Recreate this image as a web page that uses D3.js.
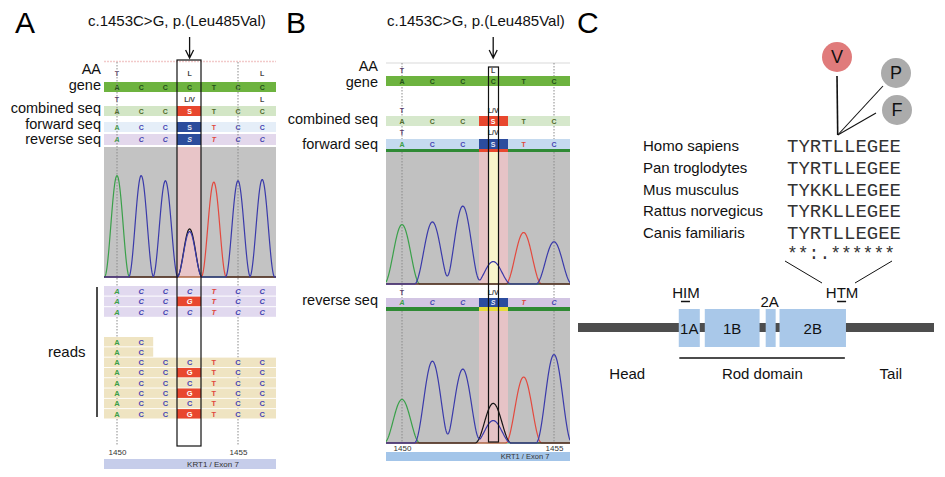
<!DOCTYPE html>
<html>
<head>
<meta charset="utf-8">
<script src="https://cdn.jsdelivr.net/npm/d3@7"></script>
<style>
  body { margin: 0; background: #fff; }
  text { font-family: 'Liberation Sans', Arial, sans-serif; }
</style>
</head>
<body>
<script>
// ---- data ----
const mutPos = 1453;
const positionsA = [1450, 1451, 1452, 1453, 1454, 1455, 1456];
const positionsB = [1450, 1451, 1452, 1453, 1454, 1455];
const tickPositions = [1450, 1455];
const geneBases = ["A", "C", "C", "C", "T", "C", "C"];
const calledBases = ["A", "C", "C", "S", "T", "C", "C"];
const aaGene = ["T", "", "", "L", "", "", "L"];
const aaCombined = ["T", "", "", "L/V", "", "", "L"];
const readsPurple = [
  ["A", "C", "C", "C", "T", "C", "C"],
  ["A", "C", "C", "G", "T", "C", "C"],
  ["A", "C", "C", "C", "T", "C", "C"]
];
const readsTan = [
  ["A", "C"],
  ["A", "C"],
  ["A", "C", "C", "C", "T", "C", "C"],
  ["A", "C", "C", "G", "T", "C", "C"],
  ["A", "C", "C", "C", "T", "C", "C"],
  ["A", "C", "C", "G", "T", "C", "C"],
  ["A", "C", "C", "C", "T", "C", "C"],
  ["A", "C", "C", "G", "T", "C", "C"]
];
// peak heights (0-100 of trace window) for the wild-type base, plus the G peak at 1453
const peaksA = [78, 78, 74, 35, 73, 74, 75];
const mutPeakA = 37;
const peaksFwdB = [45, 47, 59, 17, 39, 32];
const mutPeakFwdB = 0;
const peaksRevB = [33, 62, 56, 17, 50, 67];
const mutPeakRevB = 30;

const species = ["Homo sapiens", "Pan troglodytes", "Mus musculus", "Rattus norvegicus", "Canis familiaris"];
const sequences = ["TYRTLLEGEE", "TYRTLLEGEE", "TYKKLLEGEE", "TYRKLLEGEE", "TYRTLLEGEE"];
const conservation = "**:.******";
const variantResidue = 4; // index of L485 in the alignment window
const variants = ["V", "P", "F"];
const variantColors = ["#e07b7b", "#ababab", "#ababab"];
const domainNames = ["1A", "1B", "2A", "2B"];
const domainStart = [183, 230, 340, 365];
const domainEnd = [221, 329, 358, 485];
const proteinLength = 644;
const rodRange = [184, 483];
const motifs = [{ name: "HIM", at: 196 }, { name: "HTM", at: 478 }];
const regionLabels = [{ name: "Head", at: 90 }, { name: "Rod domain", at: 334 }, { name: "Tail", at: 566 }];

// ---- setup ----
const svg = d3.select("body").append("svg").attr("width", 945).attr("height", 477);

const letterColor = { A: "#3a9f45", C: "#4545b2", G: "#ffffff", T: "#e0473c", S: "#e6e8f4" };
const traceColor = { A: "#3aa04a", C: "#3a3aaa", G: "#151515", T: "#e3493e" };

function bar(g, x0, x1, y0, y1, fill) {
  g.append("rect").attr("x", x0).attr("y", y0)
    .attr("width", x1 - x0).attr("height", y1 - y0).attr("fill", fill);
}

function letters(g, x, pos, labels, y, opt = {}) {
  g.selectAll(null)
    .data(pos.map((p, i) => ({ p, t: labels[i] })).filter(d => d.t))
    .join("text")
    .attr("x", d => x(d.p)).attr("y", y)
    .attr("text-anchor", "middle").attr("dominant-baseline", "central")
    .style("font-size", (opt.size || 7) + "px")
    .style("font-weight", "bold")
    .style("font-style", opt.italic ? "italic" : "normal")
    .attr("fill", d => opt.color ? (typeof opt.color === "function" ? opt.color(d.t) : opt.color) : letterColor[d.t])
    .text(d => d.t);
}

function rowLabels(g, xRight, labels, baselines) {
  labels.forEach((t, i) => {
    g.append("text").attr("x", xRight).attr("y", baselines[i])
      .attr("text-anchor", "end").style("font-size", "14.5px").attr("fill", "#111").text(t);
  });
}

function arrow(g, x, y0, y1) {
  g.append("path")
    .attr("d", `M${x},${y0} V${y1} M${x - 4},${y1 - 8} L${x},${y1} L${x + 4},${y1 - 8}`)
    .attr("fill", "none").attr("stroke", "#111").attr("stroke-width", 1.3);
}

// raised-cosine peak shape of half-width w
function peakShape(d, w) {
  return Math.abs(d) < w ? Math.cos(Math.PI * d / (2 * w)) ** 2 : 0;
}

function traces(g, x, y, pos, heights, mutH, w, x0, x1, clipId) {
  ["A", "T", "G", "C"].forEach(ch => {
    const pk = [];
    pos.forEach((p, i) => { if (geneBases[i] === ch) pk.push({ c: x(p), h: heights[i] }); });
    if (ch === "G" && mutH) pk.push({ c: x(mutPos), h: mutH });
    const pts = d3.range(x0, x1 + 0.25, 0.5).map(v =>
      [v, d3.sum(pk, k => k.h * peakShape(v - k.c, w))]);
    g.append("path")
      .attr("clip-path", `url(#${clipId})`)
      .attr("d", d3.line().x(d => d[0]).y(d => y(d[1]))(pts))
      .attr("fill", "none").attr("stroke", traceColor[ch]).attr("stroke-width", 1.2);
  });
}

function dotted(g, x, xs, y0, y1) {
  xs.forEach(p => {
    g.append("line").attr("x1", x(p)).attr("x2", x(p)).attr("y1", y0).attr("y2", y1)
      .attr("stroke", "#8a8a8a").attr("stroke-width", 1).attr("stroke-dasharray", "1.5,1.5");
  });
}

function posAxis(g, x, y) {
  const ax = g.append("g").attr("transform", `translate(0,${y})`)
    .call(d3.axisBottom(x).tickValues(tickPositions).tickSize(0).tickPadding(0).tickFormat(d3.format("d")));
  ax.select(".domain").remove();
  ax.selectAll("text").style("font-size", "8px").attr("fill", "#333")
    .style("font-family", "'Liberation Sans', Arial, sans-serif");
}

const defs = svg.append("defs");

// ================= Panel A =================
const gA = svg.append("g");
const xA = d3.scaleLinear().domain([1450, 1455]).range([117, 238]);
const aL = 104, aR = 276, selA = [177, 201];

gA.append("text").attr("x", 15).attr("y", 33).style("font-size", "30px").text("A");
gA.append("text").attr("x", 88).attr("y", 26).style("font-size", "15px").attr("fill", "#111")
  .text("c.1453C>G, p.(Leu485Val)");
arrow(gA, xA(mutPos), 37, 58);
rowLabels(gA, 101, ["AA", "gene", "combined seq", "forward seq", "reverse seq"], [74, 90, 113, 129, 144]);

gA.append("line").attr("x1", aL).attr("x2", aR).attr("y1", 61.5).attr("y2", 61.5)
  .attr("stroke", "#f2caca").attr("stroke-width", 1.5).attr("stroke-dasharray", "2,1");

letters(gA, xA, positionsA, aaGene, 73, { color: t => t === "T" ? "#5a3a6a" : "#444" });
bar(gA, aL, aR, 82, 92, "#6db33f");
letters(gA, xA, positionsA, geneBases, 87, { color: "#24501a" });
letters(gA, xA, positionsA, aaCombined, 99, { color: t => t === "T" ? "#5a3a6a" : "#444" });
bar(gA, aL, aR, 106, 116, "#d3e6c6");
bar(gA, selA[0], selA[1], 106, 116, "#e8472e");
letters(gA, xA, positionsA, calledBases, 111, { color: t => t === "S" ? "#fff" : "#4f6a2a" });
bar(gA, aL, aR, 122, 132, "#e5eef8");
bar(gA, selA[0], selA[1], 122, 132, "#2c4d9c");
letters(gA, xA, positionsA, calledBases, 127);
bar(gA, aL, aR, 134, 145, "#e3d8ec");
bar(gA, selA[0], selA[1], 134, 145, "#2c4d9c");
letters(gA, xA, positionsA, calledBases, 139.5, { italic: true });

// chromatogram A
const yA = d3.scaleLinear().domain([0, 100]).range([277, 147]);
bar(gA, aL, aR, 147, 277, "#c3c3c3");
bar(gA, selA[0], selA[1], 147, 277, "#e8c5c8");
defs.append("clipPath").attr("id", "clipA").append("rect")
  .attr("x", aL).attr("y", 140).attr("width", aR - aL).attr("height", 138);
dotted(gA, xA, tickPositions, 62, 446);
traces(gA, xA, yA, positionsA, peaksA, mutPeakA, 12.5, aL, aR, "clipA");

// reads
readsPurple.forEach((r, i) => {
  const y0 = 286 + i * 10.6;
  bar(gA, aL, aR, y0, y0 + 9.6, "#e1d9ef");
  if (r[3] === "G") bar(gA, selA[0], selA[1], y0, y0 + 9.6, "#e8472e");
  letters(gA, xA, positionsA.slice(0, r.length), r, y0 + 5, { italic: true, size: 7.5 });
});
readsTan.forEach((r, i) => {
  const y0 = 337 + i * 10.3;
  const right = r.length < positionsA.length ? xA(positionsA[r.length - 1]) + 12 : aR;
  bar(gA, aL, right, y0, y0 + 9.4, "#efe4c2");
  if (r[3] === "G") bar(gA, selA[0], selA[1], y0, y0 + 9.4, "#e8472e");
  letters(gA, xA, positionsA.slice(0, r.length), r, y0 + 5, { size: 7.5 });
});
gA.append("line").attr("x1", 97).attr("x2", 97).attr("y1", 287).attr("y2", 417)
  .attr("stroke", "#111").attr("stroke-width", 1.5);
gA.append("text").attr("x", 48).attr("y", 357).style("font-size", "15px").attr("fill", "#111").text("reads");

gA.append("rect").attr("x", selA[0]).attr("y", 60).attr("width", selA[1] - selA[0]).attr("height", 386)
  .attr("fill", "none").attr("stroke", "#111").attr("stroke-width", 1.2);

posAxis(gA, xA, 449);
bar(gA, aL, aR, 459, 469, "#c6cdea");
gA.append("text").attr("x", 213).attr("y", 467).attr("text-anchor", "middle")
  .style("font-size", "8px").attr("fill", "#333").text("KRT1 / Exon 7");

// ================= Panel B =================
const gB = svg.append("g");
const xB = d3.scaleLinear().domain([1450, 1455]).range([402, 554]);
const bL = 386, bR = 570, cellB = [479, 508], selB = [488.5, 498.5];
const aaB = aaCombined.slice(0, positionsB.length);

gB.append("text").attr("x", 286).attr("y", 33).style("font-size", "30px").text("B");
gB.append("text").attr("x", 387).attr("y", 26).style("font-size", "15px").attr("fill", "#111")
  .text("c.1453C>G, p.(Leu485Val)");
arrow(gB, xB(mutPos), 37, 58);
rowLabels(gB, 378, ["AA", "gene", "combined seq", "forward seq", "reverse seq"], [71, 87, 124, 149, 305]);

gB.append("line").attr("x1", bL).attr("x2", bR).attr("y1", 63).attr("y2", 63)
  .attr("stroke", "#e6e6e6").attr("stroke-width", 1.5);
dotted(gB, xB, tickPositions, 63, 443);

letters(gB, xB, positionsB, aaGene, 70, { color: t => t === "T" ? "#5a3a6a" : "#444" });
bar(gB, bL, bR, 76, 86, "#6db33f");
letters(gB, xB, positionsB, geneBases, 81, { color: "#24501a" });
letters(gB, xB, positionsB, aaB, 110, { color: t => t === "T" ? "#5a3a6a" : "#444" });
bar(gB, bL, bR, 116, 126, "#d6e8cc");
bar(gB, cellB[0], cellB[1], 116, 126, "#e8472e");
letters(gB, xB, positionsB, calledBases, 121, { color: t => t === "S" ? "#fff" : "#4f6a2a" });
letters(gB, xB, positionsB, aaB, 132, { color: t => t === "T" ? "#5a3a6a" : "#444" });
bar(gB, bL, bR, 139, 149, "#c5daef");
bar(gB, cellB[0], cellB[1], 139, 149, "#2b4c9e");
letters(gB, xB, positionsB, calledBases, 144);
bar(gB, bL, bR, 149, 152, "#2f8a35");
bar(gB, cellB[0], cellB[1], 149, 152, "#e8472e");

// forward chromatogram B
const yBf = d3.scaleLinear().domain([0, 100]).range([284, 152]);
bar(gB, bL, bR, 152, 284, "#c1c1c1");
bar(gB, cellB[0], cellB[1], 152, 284, "#e6c3c6");
bar(gB, selB[0], selB[1], 152, 284, "#f8f5cc");
defs.append("clipPath").attr("id", "clipBf").append("rect")
  .attr("x", bL).attr("y", 150).attr("width", bR - bL).attr("height", 135);
dotted(gB, xB, tickPositions, 152, 284);
traces(gB, xB, yBf, positionsB, peaksFwdB, mutPeakFwdB, 18, bL, bR, "clipBf");

letters(gB, xB, positionsB, aaB, 292, { color: t => t === "T" ? "#5a3a6a" : "#444" });
bar(gB, bL, bR, 298, 307, "#d2c5e3");
bar(gB, cellB[0], cellB[1], 298, 307, "#2b4c9e");
letters(gB, xB, positionsB, calledBases, 302.5, { italic: true });
bar(gB, bL, bR, 307, 311, "#2f8a35");
bar(gB, cellB[0], cellB[1], 307, 311, "#e6dc3a");

// reverse chromatogram B
const yBr = d3.scaleLinear().domain([0, 100]).range([443, 311]);
bar(gB, bL, bR, 311, 443, "#c1c1c1");
bar(gB, cellB[0], cellB[1], 311, 443, "#e6c3c6");
defs.append("clipPath").attr("id", "clipBr").append("rect")
  .attr("x", bL).attr("y", 309).attr("width", bR - bL).attr("height", 135);
dotted(gB, xB, tickPositions, 311, 443);
traces(gB, xB, yBr, positionsB, peaksRevB, mutPeakRevB, 18, bL, bR, "clipBr");

gB.append("rect").attr("x", selB[0]).attr("y", 67).attr("width", selB[1] - selB[0]).attr("height", 375)
  .attr("fill", "none").attr("stroke", "#111").attr("stroke-width", 1.2);

posAxis(gB, xB, 445);
bar(gB, bL, bR, 452, 461, "#a3c5e9");
gB.append("text").attr("x", 525).attr("y", 459).attr("text-anchor", "middle")
  .style("font-size", "7.5px").attr("fill", "#333").text("KRT1 / Exon 7");

// ================= Panel C =================
const gC = svg.append("g");
gC.append("text").attr("x", 577).attr("y", 33).style("font-size", "30px").text("C");

const charW = 11.4, seqX = 787;
const mono = "'Liberation Mono', 'Courier New', monospace";
const yRow = d3.scalePoint().domain(species).range([151, 238]);
gC.selectAll(".sp").data(species).join("text").attr("class", "sp")
  .attr("x", 643).attr("y", d => yRow(d)).style("font-size", "15px").attr("fill", "#111").text(d => d);
gC.selectAll(".seq").data(sequences).join("text").attr("class", "seq")
  .attr("x", seqX).attr("y", (d, i) => yRow(species[i]) + 1)
  .style("font-family", mono).style("font-size", "19px")
  .attr("fill", "#333").text(d => d);
gC.append("text").attr("x", seqX).attr("y", 259)
  .style("font-family", mono).style("font-size", "18px")
  .attr("fill", "#333").attr("xml:space", "preserve").text(conservation);

// variant bubbles
const hub = [seqX + (variantResidue + 0.45) * charW, 135];
const bubbles = [[837, 57], [896, 73], [897, 110]];
const stemFrom = [[837, 76], [883, 86], [876, 113]];
variants.forEach((v, i) => {
  gC.append("line").attr("x1", stemFrom[i][0]).attr("y1", stemFrom[i][1]).attr("x2", hub[0]).attr("y2", hub[1])
    .attr("stroke", "#111").attr("stroke-width", i === 0 ? 1.6 : 1.1);
});
variants.forEach((v, i) => {
  gC.append("circle").attr("cx", bubbles[i][0]).attr("cy", bubbles[i][1]).attr("r", 15).attr("fill", variantColors[i]);
  gC.append("text").attr("x", bubbles[i][0]).attr("y", bubbles[i][1] + 6).attr("text-anchor", "middle")
    .style("font-size", "18px").attr("fill", "#111").text(v);
});

// protein schematic
const xP = d3.scaleLinear().domain([1, proteinLength]).range([578, 934]);
const backY = 327.5;
gC.append("line").attr("x1", xP(1)).attr("x2", xP(proteinLength)).attr("y1", backY).attr("y2", backY)
  .attr("stroke", "#4d4d4d").attr("stroke-width", 9);
domainNames.forEach((d, i) => {
  bar(gC, xP(domainStart[i]), xP(domainEnd[i]), 309, 347, "#a9c8e9");
  const cx = (xP(domainStart[i]) + xP(domainEnd[i])) / 2;
  gC.append("text").attr("x", d === "2A" ? cx - 1 : cx).attr("y", d === "2A" ? 307 : 334)
    .attr("text-anchor", "middle").style("font-size", "15px").attr("fill", "#111").text(d);
});
motifs.forEach(m => {
  gC.append("text").attr("x", xP(m.at)).attr("y", 298).attr("text-anchor", "middle")
    .style("font-size", "15px").attr("fill", "#111").text(m.name);
  gC.append("line").attr("x1", xP(m.at) - 5).attr("x2", xP(m.at) + 4).attr("y1", 301.5).attr("y2", 301.5)
    .attr("stroke", "#111").attr("stroke-width", 1.5);
});
gC.append("line").attr("x1", xP(rodRange[0])).attr("x2", xP(rodRange[1])).attr("y1", 358).attr("y2", 358)
  .attr("stroke", "#111").attr("stroke-width", 1.5);
regionLabels.forEach(r => {
  gC.append("text").attr("x", xP(r.at)).attr("y", 379).attr("text-anchor", "middle")
    .style("font-size", "15px").attr("fill", "#111").text(r.name);
});
// zoom lines from alignment to HTM
gC.append("line").attr("x1", 785).attr("y1", 261).attr("x2", 822).attr("y2", 283).attr("stroke", "#111").attr("stroke-width", 1);
gC.append("line").attr("x1", 892).attr("y1", 261).attr("x2", 855).attr("y2", 283).attr("stroke", "#111").attr("stroke-width", 1);
</script>
</body>
</html>
